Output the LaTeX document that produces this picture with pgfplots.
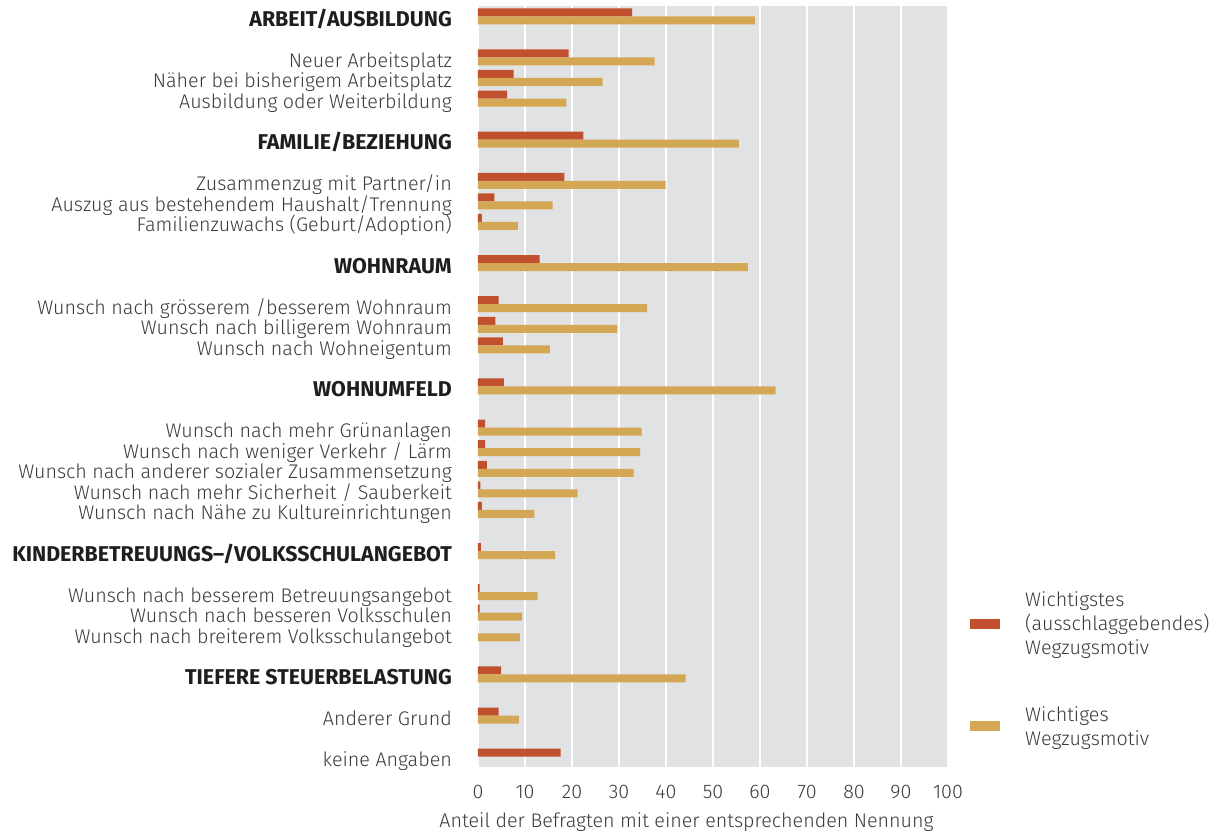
\documentclass[border=0pt]{standalone}
\usepackage{fontspec}
\setmainfont{Fira Sans}[UprightFont={* Light}, BoldFont={* Bold}]
\usepackage{pgfplots}
\pgfplotsset{compat=1.18}
\usepackage{pgfplotstable}
\definecolor{redbar}{HTML}{C0502E}
\definecolor{yelbar}{HTML}{D4A754}
\definecolor{bg}{HTML}{E1E2E4}
\definecolor{txt}{HTML}{3A3A3A}
\definecolor{txtb}{HTML}{1E1E1E}
\newcommand{\hd}[1]{{\fontsize{21.4}{22}\selectfont\bfseries\color{txtb}#1}}

\pgfplotstableread{
slot red yel
0    32.8 58.9
-2   19.3 37.6
-3   7.6  26.5
-4   6.2  18.8
-6   22.4 55.5
-8   18.4 39.9
-9   3.5  15.9
-10  0.8  8.5
-12  13.1 57.4
-14  4.4  36.0
-15  3.7  29.6
-16  5.3  15.3
-18  5.5  63.3
-20  1.5  34.8
-21  1.5  34.5
-22  1.9  33.1
-23  0.5  21.2
-24  0.8  12.0
-26  0.6  16.4
-28  0.35 12.7
-29  0.35 9.4
-30  0.0  8.9
-32  4.9  44.2
-34  4.4  8.7
-36  17.6 0.0
}\data

\begin{document}
\begin{tikzpicture}[x=1pt,y=1pt]
\path[use as bounding box] (0,0) rectangle (1224,832);
\begin{axis}[
  at={(478pt,65pt)}, anchor=south west,
  scale only axis, width=470pt, height=761pt,
  xmin=0, xmax=100, ymin=-36.5, ymax=0.5,
  xbar,
  axis background/.style={fill=bg},
  axis line style={draw=none},
  major tick length=0pt,
  xtick={0,10,...,100},
  xmajorgrids, grid style={white, line width=1.5pt},
  /pgf/number format/assume math mode=true,
  tick label style={font=\fontsize{19.7}{21}\selectfont, text=txt},
  xticklabel style={yshift=-15pt},
  ytick={0,-2,-3,-4,-6,-8,-9,-10,-12,-14,-15,-16,-18,-20,-21,-22,-23,-24,-26,-28,-29,-30,-32,-34,-36},
  yticklabels={
    {\hd{ARBEIT/AUSBILDUNG}},
    Neuer Arbeitsplatz,
    Näher bei bisherigem Arbeitsplatz,
    Ausbildung oder Weiterbildung,
    {\hd{FAMILIE/BEZIEHUNG}},
    Zusammenzug mit Partner/in,
    Auszug aus bestehendem Haushalt/Trennung,
    Familienzuwachs (Geburt/Adoption),
    {\hd{WOHNRAUM}},
    Wunsch nach grösserem /besserem Wohnraum,
    Wunsch nach billigerem Wohnraum,
    Wunsch nach Wohneigentum,
    {\hd{WOHNUMFELD}},
    Wunsch nach mehr Grünanlagen,
    Wunsch nach weniger Verkehr / Lärm,
    Wunsch nach anderer sozialer Zusammensetzung,
    Wunsch nach mehr Sicherheit / Sauberkeit,
    Wunsch nach Nähe zu Kultureinrichtungen,
    {\hd{KINDERBETREUUNGS–/VOLKSSCHULANGEBOT}},
    Wunsch nach besserem Betreuungsangebot,
    Wunsch nach besseren Volksschulen,
    Wunsch nach breiterem Volksschulangebot,
    {\hd{TIEFERE STEUERBELASTUNG}},
    Anderer Grund,
    keine Angaben},
  yticklabel style={anchor=base east, inner sep=0pt, xshift=-26pt, yshift=-10pt},
  xlabel={Anteil der Befragten mit einer entsprechenden Nennung},
  xlabel style={at={(axis description cs:0.4436,0)}, anchor=center, yshift=-55pt,
     font=\fontsize{19.7}{21}\selectfont, text=txt},
  legend style={draw=none, fill=none, at={(axis description cs:1.0405,0.1284)}, anchor=west,
     row sep=50pt, column sep=25pt, font=\fontsize{19.7}{24}\selectfont, text=txt,
     cells={align=left}, nodes={inner sep=0pt}},
  legend cell align=left,
  legend image code/.code={\fill[#1,draw=none] (0pt,-5pt) rectangle (30pt,5pt);},
]
\addplot[fill=redbar, draw=none, bar width=8pt, bar shift=4pt] table[x=red,y=slot]{\data};
\addplot[fill=yelbar, draw=none, bar width=8pt, bar shift=-4pt] table[x=yel,y=slot]{\data};
\legend{{Wichtigstes\\(ausschlaggebendes)\\Wegzugsmotiv},{Wichtiges\\Wegzugsmotiv}}
\end{axis}
\end{tikzpicture}
\end{document}
